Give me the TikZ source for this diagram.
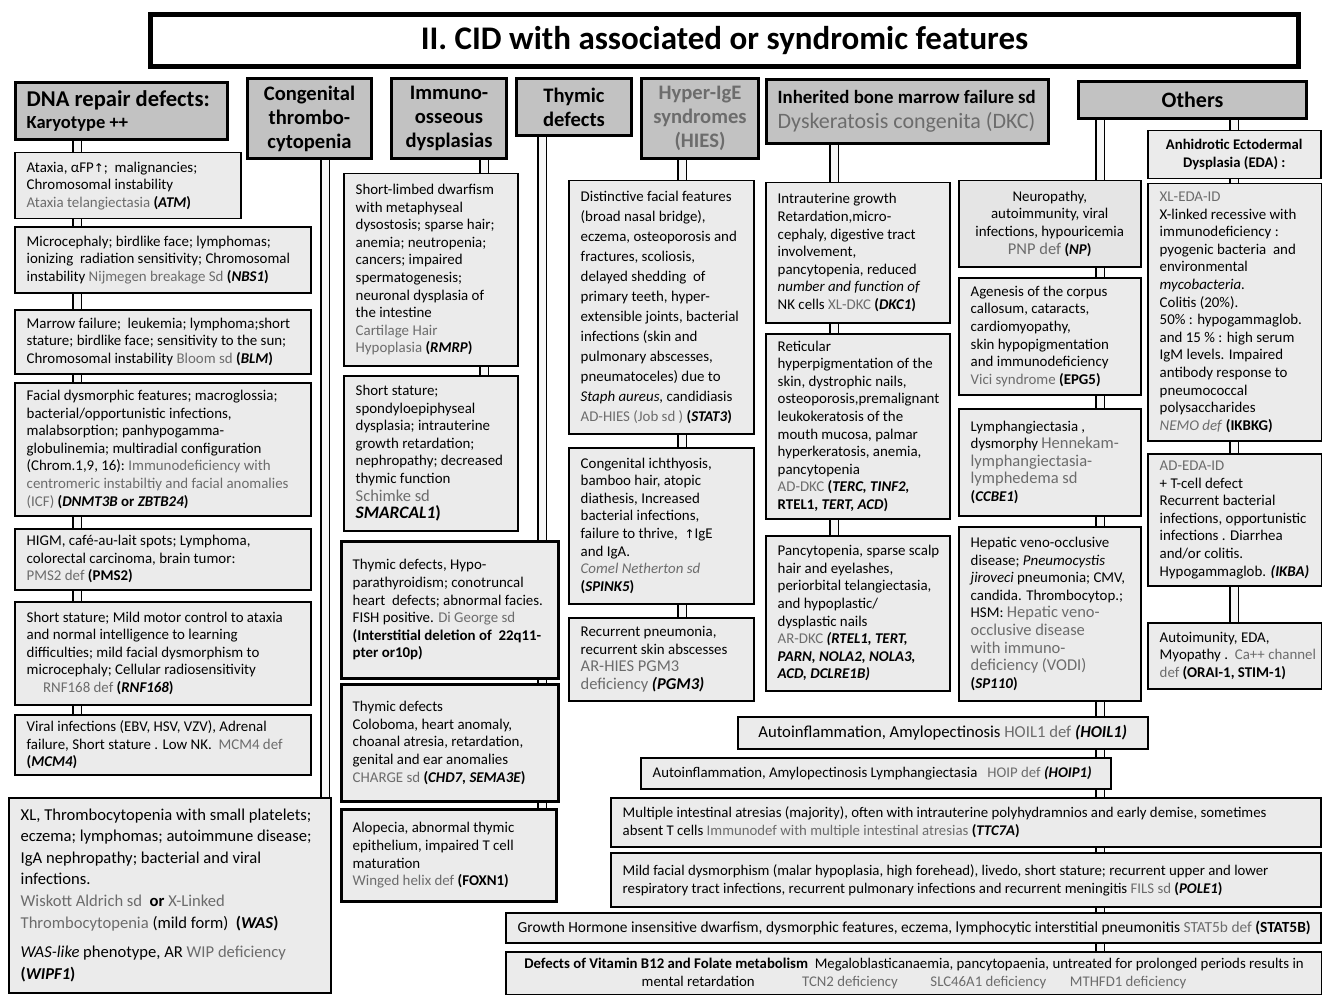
\documentclass[tikz,border=0pt]{standalone}
\usepackage{fontspec}
\setmainfont{Carlito}
\newfontfamily\symfont{DejaVu Sans}
\usetikzlibrary{backgrounds}
\definecolor{disgray}{HTML}{6C6C6C}
\definecolor{boxfill}{HTML}{EBEBEB}
\definecolor{headfill}{HTML}{C2C2C2}
\newcommand\dis[1]{\textcolor{disgray}{#1}}
\newcommand\uarr{{\symfont\fontsize{12}{12}\selectfont ↑}}
\newcommand\bigger{\fontsize{16.5}{19}\selectfont}
\newcommand\biggest{\fontsize{17.5}{19}\selectfont}
% box with left-aligned text: name, box style, x1, y1, x2, y2, text style, text
\newcommand\boxL[8]{%
  \pgfmathsetmacro\cbW{#5-#3}\pgfmathsetmacro\cbH{#6-#4}%
  \node[#2, minimum width=\cbW pt, minimum height=\cbH pt, anchor=north west] (#1) at (#3,#4) {};
  \node[#7, anchor=west, align=left] (#1-t) at ([xshift=12.5pt]#1.west) {#8};}
% box with centred text
\newcommand\boxC[8]{%
  \pgfmathsetmacro\cbW{#5-#3}\pgfmathsetmacro\cbH{#6-#4}%
  \node[#2, minimum width=\cbW pt, minimum height=\cbH pt, anchor=north west] (#1) at (#3,#4) {};
  \node[#7, align=center] (#1-t) at (#1.center) {#8};}
\tikzset{
  bx/.style={draw=black, fill=boxfill, line width=1.5pt, inner sep=0pt},
  bxd/.style={bx, fill=gray!20},
  bxk/.style={bx, line width=2.6pt},
  bxm/.style={bx, line width=2pt},
  hd/.style={draw=black, fill=headfill, line width=3pt, inner sep=0pt},
  ttl/.style={draw=black, fill=white, line width=5pt, inner sep=0pt},
  tb/.style={inner sep=0pt, font=\fontsize{14.9}{17.6}\selectfont},
  tbw/.style={inner sep=0pt, font=\fontsize{14.9}{20}\selectfont},
  tw/.style={inner sep=0pt, font=\fontsize{16.6}{21.6}\selectfont},
  tbb/.style={inner sep=0pt, font=\fontsize{14.7}{18}\selectfont\bfseries},
  tl/.style={inner sep=0pt, font=\fontsize{16.7}{18}\selectfont},
  tc/.style={inner sep=0pt, font=\fontsize{14.8}{18}\selectfont},
  thd/.style={inner sep=0pt, font=\fontsize{18.5}{22}\selectfont\bfseries},
  thk/.style={inner sep=0pt, font=\fontsize{18.8}{25}\selectfont\bfseries},
  thc/.style={inner sep=0pt, font=\fontsize{20.6}{24}\selectfont\bfseries},
  pipe/.style={draw=black, line width=1.2pt, double=gray!6, double distance=7pt},
}
\begin{document}
\begin{tikzpicture}[x=1pt,y=-1pt]
\useasboundingbox (0,0) rectangle (1322,995);

% title
\boxC{title}{ttl}{148}{12}{1296}{64}{inner sep=0pt, font=\fontsize{33}{36}\selectfont\bfseries}{II. CID with associated or syndromic features}

% group headers
\boxL{hdna}{hd}{14}{81}{226}{138}{thd}{{\fontsize{22.6}{22}\selectfont DNA repair defects:}\\Karyotype ++}
\boxC{hct}{hd}{246}{77}{370}{157}{thc}{Congenital\\thrombo-\\cytopenia}
\boxC{hio}{hd}{390}{77}{505}{157}{thc}{Immuno-\\osseous\\dysplasias}
\boxC{hthy}{hd}{515}{77}{630}{134}{thc}{Thymic\\defects}
\boxC{hhies}{hd}{640}{77}{757}{157}{thc}{\dis{Hyper-IgE}\\\dis{syndromes}\\\dis{(HIES)}}
\boxL{hdkc}{hd}{765}{78}{1047}{142}{thk}{Inherited bone marrow failure sd\\{\fontsize{22}{25}\selectfont\mdseries\dis{Dyskeratosis congenita (DKC)}}}
\boxC{hoth}{hd}{1077}{80}{1305}{117}{thc}{{\fontsize{22}{24}\selectfont Others}}

% DNA repair defects
\boxL{atm}{bx}{14}{152}{240}{218}{tb}{Ataxia, αFP\uarr;\ \ malignancies;\\Chromosomal instability\\\dis{Ataxia telangiectasia} \textbf{(\textit{ATM})}}
\boxL{nbs}{bx}{14}{226}{310}{292}{tb}{Microcephaly; birdlike face; lymphomas;\\ionizing\ \ radiation sensitivity; Chromosomal\\instability \dis{Nijmegen breakage Sd} \textbf{(\textit{NBS1})}}
\boxL{blm}{bx}{14}{309}{310}{373}{tb}{Marrow failure;\ \ leukemia; lymphoma;short\\stature; birdlike face; sensitivity to the sun;\\Chromosomal instability \dis{Bloom sd} \textbf{(\textit{BLM})}}
\boxL{icf}{bx}{14}{382}{310}{515}{tb}{Facial dysmorphic features; macroglossia;\\bacterial/opportunistic infections,\\malabsorption; panhypogamma-\\globulinemia; multiradial configuration\\(Chrom.1,9, 16):\ \dis{Immunodeficiency with}\\\dis{centromeric instabiltiy and facial anomalies}\\\dis{(ICF)} \textbf{(\textit{DNMT3B} or \textit{ZBTB24})}}
\boxL{pms}{bx}{14}{528}{310}{589}{tb}{HIGM, café-au-lait spots; Lymphoma,\\colorectal carcinoma, brain tumor:\\\dis{PMS2 def} \textbf{(PMS2)}}
\boxL{rnf}{bx}{14}{601}{310}{704}{tb}{Short stature; Mild motor control to ataxia\\and normal intelligence to learning\\difficulties; mild facial dysmorphism to\\microcephaly; Cellular radiosensitivity\\\hspace{1.1em}\dis{RNF168 def} \textbf{(\textit{RNF168})}}
\boxL{mcm}{bx}{14}{714}{310}{774}{tb}{Viral infections (EBV, HSV, VZV), Adrenal\\failure, Short stature . Low NK.\ \ \dis{MCM4 def}\\\textbf{(\textit{MCM4})}}

% congenital thrombocytopenia
\boxL{was}{bx}{8}{797}{330}{992}{tw}{XL, Thrombocytopenia with small platelets;\\eczema; lymphomas; autoimmune disease;\\IgA nephropathy; bacterial and viral\\infections.\\\dis{Wiskott Aldrich sd}\ \ \textbf{or} \dis{X-Linked}\\\dis{Thrombocytopenia} (mild form)\ \ \textbf{(\textit{WAS})}\\[8pt]\textit{WAS-like} phenotype, AR \dis{WIP deficiency}\\\textbf{(\textit{WIPF1})}}

% immuno-osseous dysplasias
\boxL{rmrp}{bx}{343}{173}{517}{365}{tb}{Short-limbed dwarfism\\with metaphyseal\\dysostosis; sparse hair;\\anemia; neutropenia;\\cancers; impaired\\spermatogenesis;\\neuronal dysplasia of\\the intestine\\\dis{Cartilage Hair}\\\dis{Hypoplasia} \textbf{(\textit{RMRP})}}
\boxL{schim}{bx}{343}{375}{517}{530}{tb}{Short stature;\\spondyloepiphyseal\\dysplasia; intrauterine\\growth retardation;\\nephropathy; decreased\\thymic function\\{\bigger\dis{Schimke sd}}\\{\biggest\bfseries\itshape SMARCAL1\upshape)}}

% thymic defects
\boxL{dig}{bxk}{340}{540}{557}{677}{tb}{Thymic defects, Hypo-\\parathyroidism; conotruncal\\heart\ \ defects; abnormal facies.\\FISH positive. \dis{Di George sd}\\\textbf{(Interstitial deletion of\ \ 22q11-}\\\textbf{pter or10p)}}
\boxL{chg}{bxk}{340}{683}{557}{800}{tb}{Thymic defects\\Coloboma, heart anomaly,\\choanal atresia, retardation,\\genital and ear anomalies\\\dis{CHARGE sd} \textbf{(\textit{CHD7, SEMA3E})}}
\boxL{fox}{bxk}{340}{808}{555}{900}{tb}{Alopecia, abnormal thymic\\epithelium, impaired T cell\\maturation\\\dis{Winged helix def} \textbf{(FOXN1)}}

% hyper-IgE syndromes
\boxL{stat3}{bx}{568}{180}{753}{433}{tbw}{Distinctive facial features\\(broad nasal bridge),\\eczema, osteoporosis and\\fractures, scoliosis,\\delayed shedding\ \ of\\primary teeth, hyper-\\extensible joints, bacterial\\infections (skin and\\pulmonary abscesses,\\pneumatoceles) due to\\\textit{Staph aureus,} candidiasis\\\dis{AD-HIES (Job sd )} \textbf{(\textit{STAT3})}}
\boxL{spink}{bx}{568}{447}{753}{603}{tb}{Congenital ichthyosis,\\bamboo hair, atopic\\diathesis, Increased\\bacterial infections,\\failure to thrive,\ \ \uarr IgE\\and IgA.\\\dis{\textit{Comel Netherton sd}}\\\textbf{(\textit{SPINK5})}}
\boxL{pgm}{bx}{568}{617}{753}{700}{tb}{Recurrent pneumonia,\\recurrent skin abscesses\\{\bigger\dis{AR-HIES PGM3}}\\{\bigger\dis{deficiency} \textbf{\textit{(PGM3)}}}}

% dyskeratosis congenita
\boxL{dkc1}{bx}{765}{182}{949}{322}{tb}{Intrauterine growth\\Retardation,micro-\\cephaly, digestive tract\\involvement,\\pancytopenia, reduced\\\textit{number and function of}\\NK cells \dis{XL-DKC} \textbf{(\textit{DKC1})}}
\boxL{addkc}{bx}{765}{333}{949}{518}{tb}{Reticular\\hyperpigmentation of the\\skin, dystrophic nails,\\osteoporosis,premalignant\\leukokeratosis of the\\mouth mucosa, palmar\\hyperkeratosis, anemia,\\pancytopenia\\\dis{AD-DKC} \textbf{(\textit{TERC, TINF2,}}\\\textbf{RTEL1, \textit{TERT, ACD}}\textbf{)}}
\boxL{ardkc}{bx}{765}{535}{949}{690}{tb}{Pancytopenia, sparse scalp\\hair and eyelashes,\\periorbital telangiectasia,\\and hypoplastic/\\dysplastic nails\\\dis{AR-DKC} \textbf{\textit{(RTEL1, TERT,}}\\\textbf{\textit{PARN, NOLA2, NOLA3,}}\\\textbf{\textit{ACD, DCLRE1B)}}}

% others, left column
\boxC{pnp}{bxd}{958}{180}{1140}{266}{tb}{Neuropathy,\\autoimmunity, viral\\infections, hypouricemia\\\dis{\bigger PNP def} \textbf{(\textit{NP})}}
\boxL{vici}{bx}{958}{277}{1140}{394}{tb}{Agenesis of the corpus\\callosum, cataracts,\\cardiomyopathy,\\skin hypopigmentation\\and immunodeficiency\\\dis{Vici syndrome} \textbf{(EPG5)}}
\boxL{ccbe}{bx}{958}{408}{1140}{515}{tb}{Lymphangiectasia ,\\dysmorphy \dis{\bigger Hennekam-}\\{\bigger\dis{lymphangiectasia-}}\\{\bigger\dis{lymphedema sd}}\\\textbf{(\textit{CCBE1})}}
\boxL{sp110}{bx}{958}{526}{1140}{700}{tb}{Hepatic veno-occlusive\\disease; \textit{Pneumocystis}\\\textit{jiroveci} pneumonia; CMV,\\candida. Thrombocytop.;\\HSM: {\bigger\dis{Hepatic veno-}}\\{\bigger\dis{occlusive disease}}\\{\bigger\dis{with immuno-}}\\{\bigger\dis{deficiency (VODI)}}\\\textbf{(\textit{SP110})}}

% others, right column
\boxC{eda}{bx}{1147}{130}{1320}{178}{tbb}{Anhidrotic Ectodermal\\Dysplasia (EDA) :}
\boxL{xleda}{bx}{1147}{183}{1321}{440}{tb}{\dis{XL-EDA-ID}\\X-linked recessive with\\immunodeficiency :\\pyogenic bacteria\ \ and\\environmental\\\textit{mycobacteria.}\\Colitis (20\%).\\50\% : hypogammaglob.\\and 15 \% : high serum\\IgM levels. Impaired\\antibody response to\\pneumococcal\\polysaccharides\\\dis{\textit{NEMO def}} \textbf{(IKBKG)}}
\boxL{adeda}{bx}{1147}{453}{1321}{585}{tb}{\dis{AD-EDA-ID}\\+ T-cell defect\\Recurrent bacterial\\infections, opportunistic\\infections . Diarrhea\\and/or colitis.\\Hypogammaglob. \textbf{\textit{(IKBA)}}}
\boxL{orai}{bx}{1147}{622}{1321}{688}{tb}{Autoimunity, EDA,\\Myopathy .\ \ \dis{Ca++ channel}\\\dis{def} \textbf{(ORAI-1, STIM-1)}}

% wide rows at the bottom
\boxC{hoil}{bx}{737}{716}{1147}{748}{tl}{Autoinflammation, Amylopectinosis \dis{HOIL1 def} \textbf{\textit{(HOIL1)}}}
\boxL{hoip}{bx}{640}{757}{1110}{788}{tc}{Autoinflammation, Amylopectinosis Lymphangiectasia\ \ \ \dis{HOIP def} \textbf{\textit{(HOIP1)}}}
\boxL{ttc}{bxm}{610}{797}{1320}{846}{tc}{Multiple intestinal atresias (majority), often with intrauterine polyhydramnios and early demise, sometimes\\absent T cells \dis{Immunodef with multiple intestinal atresias} \textbf{(\textit{TTC7A})}}
\boxL{pole}{bxm}{610}{852}{1320}{906}{tc}{Mild facial dysmorphism (malar hypoplasia, high forehead), livedo, short stature; recurrent upper and lower\\respiratory tract infections, recurrent pulmonary infections and recurrent meningitis \dis{FILS sd} \textbf{(\textit{POLE1})}}
\boxL{stat5}{bx}{505}{912}{1320}{942}{tc, font=\fontsize{15.4}{18}\selectfont}{Growth Hormone insensitive dwarfism, dysmorphic features, eczema, lymphocytic interstitial pneumonitis \dis{STAT5b def} \textbf{(STAT5B)}}
\boxC{vit}{bxm}{505}{951}{1321}{994}{tc}{\textbf{Defects of Vitamin B12 and Folate metabolism}\ \ Megaloblasticanaemia, pancytopaenia, untreated for prolonged periods results in\\mental retardation\hspace{3.2em}\dis{TCN2 deficiency}\hspace{2.2em}\dis{SLC46A1 deficiency}\hspace{1.6em}\dis{MTHFD1 deficiency}}

% pipe positions
\coordinate (p1) at (77,0);
\coordinate (pct) at (325,0);
\coordinate (pio) at (484,0);
\coordinate (pth) at (542,0);
\coordinate (phi) at (682,0);
\coordinate (pdk) at (834,0);
\coordinate (pol) at (1100,0);
\coordinate (por) at (1234,0);

\begin{pgfonlayer}{background}
  % DNA repair chain
  \draw[pipe] (hdna.south -| p1) -- (atm.north -| p1);
  \draw[pipe] (atm.south -| p1) -- (nbs.north -| p1);
  \draw[pipe] (nbs.south -| p1) -- (blm.north -| p1);
  \draw[pipe] (blm.south -| p1) -- (icf.north -| p1);
  \draw[pipe] (icf.south -| p1) -- (pms.north -| p1);
  \draw[pipe] (pms.south -| p1) -- (rnf.north -| p1);
  \draw[pipe] (rnf.south -| p1) -- (mcm.north -| p1);
  % congenital thrombocytopenia
  \draw[pipe] (hct.south -| pct) -- (was.north -| pct);
  % immuno-osseous
  \draw[pipe] (hio.south -| pio) -- (rmrp.north -| pio);
  \draw[pipe] (rmrp.south -| pio) -- (schim.north -| pio);
  % thymic
  \draw[pipe] (hthy.south -| pth) -- (dig.north -| pth);
  \draw[pipe] (dig.south -| pth) -- (chg.north -| pth);
  \draw[pipe] (chg.south -| pth) -- (fox.north -| pth);
  % hyper-IgE
  \draw[pipe] (hhies.south -| phi) -- (stat3.north -| phi);
  \draw[pipe] (stat3.south -| phi) -- (spink.north -| phi);
  \draw[pipe] (spink.south -| phi) -- (pgm.north -| phi);
  % dyskeratosis congenita
  \draw[pipe] (hdkc.south -| pdk) -- (dkc1.north -| pdk);
  \draw[pipe] (dkc1.south -| pdk) -- (addkc.north -| pdk);
  \draw[pipe] (addkc.south -| pdk) -- (ardkc.north -| pdk);
  % others, left
  \draw[pipe] (hoth.south -| pol) -- (pnp.north -| pol);
  \draw[pipe] (pnp.south -| pol) -- (vici.north -| pol);
  \draw[pipe] (vici.south -| pol) -- (ccbe.north -| pol);
  \draw[pipe] (ccbe.south -| pol) -- (sp110.north -| pol);
  \draw[pipe] (sp110.south -| pol) -- (hoil.north -| pol);
  \draw[pipe] (hoil.south -| pol) -- (hoip.north -| pol);
  \draw[pipe] (hoip.south -| pol) -- (ttc.north -| pol);
  \draw[pipe] (ttc.south -| pol) -- (pole.north -| pol);
  \draw[pipe] (pole.south -| pol) -- (stat5.north -| pol);
  \draw[pipe] (stat5.south -| pol) -- (vit.north -| pol);
  % others, right
  \draw[pipe] (hoth.south -| por) -- (eda.north -| por);
  \draw[pipe] (eda.south -| por) -- (xleda.north -| por);
  \draw[pipe] (xleda.south -| por) -- (adeda.north -| por);
  \draw[pipe] (adeda.south -| por) -- (orai.north -| por);
\end{pgfonlayer}
\end{tikzpicture}
\end{document}
